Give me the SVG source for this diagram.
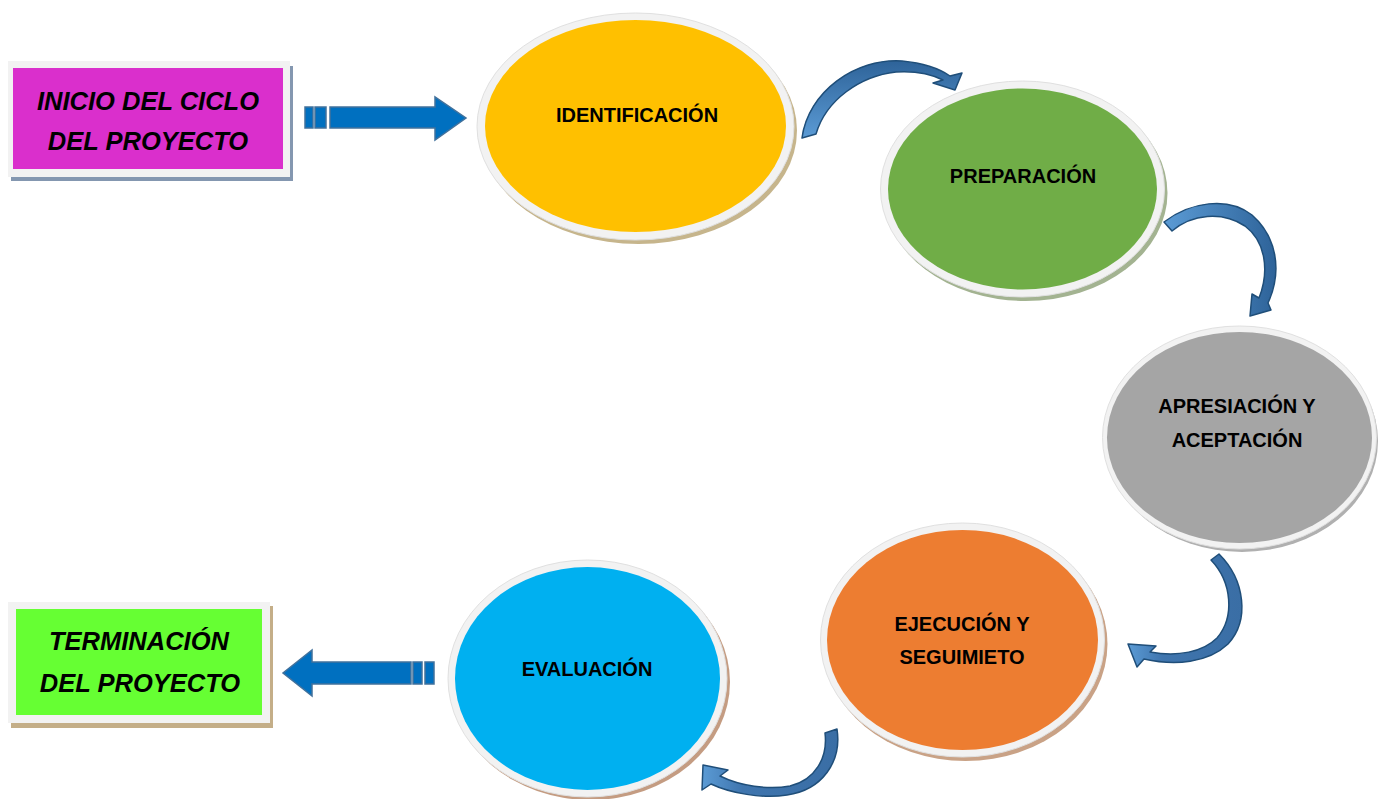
<svg xmlns="http://www.w3.org/2000/svg" width="1381" height="799" viewBox="0 0 1381 799">
<defs>
<linearGradient id="ga" x1="0" y1="0" x2="0" y2="1">
<stop offset="0" stop-color="#2E6399"/>
<stop offset="1" stop-color="#5B9BD5"/>
</linearGradient>
<linearGradient id="gb" x1="1" y1="0" x2="0" y2="0">
<stop offset="0" stop-color="#2E6399"/>
<stop offset="1" stop-color="#5B9BD5"/>
</linearGradient>
<linearGradient id="gc" x1="0" y1="0" x2="1" y2="0">
<stop offset="0" stop-color="#5B9BD5"/>
<stop offset="0.3" stop-color="#3F75AE"/>
<stop offset="1" stop-color="#3A6EA5"/>
</linearGradient>
</defs>
<style>
.ring{fill:#F2F2F2;stroke:#E0E0E0;stroke-width:1}
.lbl{font-family:"Liberation Sans",Arial,sans-serif;font-weight:bold;font-size:20px;fill:#000;text-anchor:middle}
.big{font-family:"Liberation Sans",Arial,sans-serif;font-weight:bold;font-style:italic;font-size:25.5px;fill:#000;text-anchor:middle}
.blk{fill:#0070C0;stroke:#41719C;stroke-width:1.5}
.crv{stroke:#1F4E79;stroke-width:1.5;stroke-linejoin:round}
</style>
<rect width="1381" height="799" fill="#FFFFFF"/>

<g id="inicio">
<rect x="11" y="66" width="282" height="115" fill="#8497B0"/>
<rect x="8" y="61" width="282" height="116" fill="#F2F2F2"/>
<rect x="13" y="68" width="270" height="101" fill="#DA2FCC"/>
<text class="big" x="148" y="110">INICIO DEL CICLO</text>
<text class="big" x="148" y="150">DEL PROYECTO</text>
</g>

<g id="terminacion">
<rect x="11" y="606" width="262" height="122" fill="#C4AE88"/>
<rect x="8" y="602" width="262" height="121" fill="#F2F2F2"/>
<rect x="16" y="609" width="246" height="106" fill="#66FF33"/>
<text class="big" x="139" y="650">TERMINACIÓN</text>
<text class="big" x="140" y="692">DEL PROYECTO</text>
</g>

<g id="identificacion">
<ellipse cx="638.5" cy="130.5" rx="158.5" ry="113.5" fill="#C6B58C"/>
<ellipse class="ring" cx="635.5" cy="126.5" rx="158.5" ry="113.5"/>
<ellipse cx="635.5" cy="126" rx="150.5" ry="106" fill="#FFC000"/>
<text class="lbl" x="637" y="122">IDENTIFICACIÓN</text>
</g>

<g id="preparacion">
<ellipse cx="1025.5" cy="193" rx="142" ry="108" fill="#A3B391"/>
<ellipse class="ring" cx="1022.5" cy="189" rx="142" ry="108"/>
<ellipse cx="1022.5" cy="189" rx="134.5" ry="100.5" fill="#70AD47"/>
<text class="lbl" x="1023" y="183">PREPARACIÓN</text>
</g>

<g id="apresiacion">
<ellipse cx="1242" cy="441" rx="136" ry="111" fill="#B0B0B0"/>
<ellipse class="ring" cx="1239.5" cy="437.5" rx="137" ry="111.5"/>
<ellipse cx="1239.5" cy="437.5" rx="132.5" ry="105.5" fill="#A5A5A5"/>
<text class="lbl" x="1237" y="413">APRESIACIÓN Y</text>
<text class="lbl" x="1237" y="447">ACEPTACIÓN</text>
</g>

<g id="ejecucion">
<ellipse cx="965.5" cy="644" rx="142" ry="117" fill="#C9A286"/>
<ellipse class="ring" cx="962.5" cy="640" rx="142" ry="117"/>
<ellipse cx="962.5" cy="640" rx="135.5" ry="110" fill="#ED7D31"/>
<text class="lbl" x="962" y="631">EJECUCIÓN Y</text>
<text class="lbl" x="962" y="664">SEGUIMIETO</text>
</g>

<g id="evaluacion">
<ellipse cx="590.5" cy="682" rx="139.5" ry="118" fill="#C49C82"/>
<ellipse class="ring" cx="587.5" cy="678.5" rx="139.5" ry="118.5"/>
<ellipse cx="587.5" cy="678.5" rx="132.5" ry="111.5" fill="#00B0F0"/>
<text class="lbl" x="587" y="676">EVALUACIÓN</text>
</g>

<g id="connectors">
<rect class="blk" x="305" y="107" width="8" height="21"/>
<rect class="blk" x="315" y="107" width="11" height="21"/>
<path class="blk" d="M330,107 L435,107 L435,97 L466,118 L435,140 L435,128 L330,128 Z"/>

<rect class="blk" x="425" y="662" width="9" height="22"/>
<rect class="blk" x="413" y="662" width="9" height="22"/>
<path class="blk" d="M411,662 L312,662 L312,650 L283,673 L312,696 L312,684 L411,684 Z"/>

<path class="crv" fill="url(#ga)" d="M802,138 C808,92 855,58 902,61 C923,63 940,69 950,76 L962,73 L955,90 L933,83 L943,80 C929,73 912,71 896,72 C860,76 826,100 816,134 Z"/>
<path class="crv" fill="url(#gb)" d="M1164,222 C1190,202 1228,196 1252,215 C1276,236 1283,270 1268,303 L1271,310 L1250,316 L1252,294 L1259,298 C1270,270 1265,241 1245,226 C1222,211 1192,214 1172,231 Z"/>
<path class="crv" fill="url(#gc)" d="M1219,554 C1245,580 1250,620 1228,644 C1208,663 1175,666 1144,659 L1137,667 L1128,644 L1156,646 L1150,652 C1178,657 1203,652 1217,638 C1235,617 1232,582 1211,560 Z"/>
<path class="crv" fill="url(#gc)" d="M837,729 C842,762 822,790 787,795 C762,799 730,793 711,784 L702,790 L703,765 L728,770 L720,776 C740,786 768,790 790,786 C815,780 828,758 825,733 Z"/>
</g>
</svg>
